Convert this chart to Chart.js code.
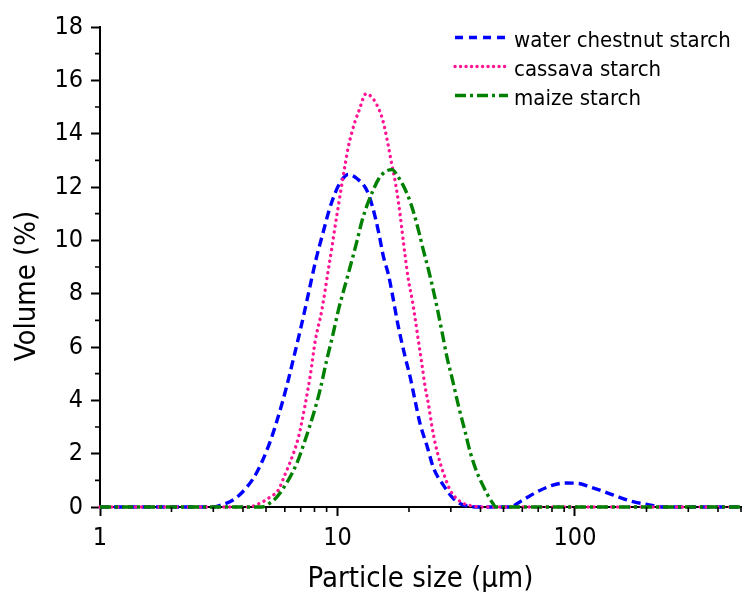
<!DOCTYPE html>
<html>
<head>
<meta charset="utf-8"/>
<script src="https://cdn.jsdelivr.net/npm/chart.js@4.4.0/dist/chart.umd.min.js"></script>
<style>
  body { margin: 0; background: #fff; }
  #wrap { width: 744px; height: 592px; }
</style>
</head>
<body>
<div id="wrap"><canvas id="chart" width="744" height="592"></canvas></div>
<script>
// particle size distributions (size in um, volume in %)
var wcSize = [1, 3.0, 3.2, 3.7, 4.2, 4.6, 5.2, 5.65, 6.1, 6.5, 7.0, 7.5, 8.1, 8.7, 9.2, 9.8, 10.4, 11.1, 12.1, 13.3, 14.0, 14.9, 15.6, 16.4, 17.0, 18.0, 19.3, 20.2, 21.2, 22.3, 23.8, 25.4, 28.0, 30.8, 35.0, 40, 53, 60, 69, 80, 91, 104, 116, 134, 153, 177, 201, 236, 500];
var wcVol  = [0, 0, 0.06, 0.31, 0.8, 1.34, 2.44, 3.44, 4.5, 5.5, 6.7, 7.9, 9.25, 10.3, 11.1, 11.8, 12.25, 12.47, 12.31, 11.87, 11.3, 10.3, 9.4, 8.7, 8.0, 6.8, 5.6, 4.9, 4.0, 3.1, 2.3, 1.45, 0.8, 0.31, 0.04, 0, 0, 0.25, 0.56, 0.81, 0.9, 0.88, 0.75, 0.56, 0.37, 0.19, 0.1, 0, 0];

var csSize = [1, 4.2, 4.5, 5.2, 5.65, 6.0, 6.3, 6.85, 7.3, 7.7, 8.05, 8.6, 9.15, 9.5, 9.8, 10.05, 10.3, 10.8, 11.1, 11.5, 11.9, 12.3, 13.2, 14.0, 14.7, 15.4, 15.9, 16.4, 16.9, 17.5, 18.1, 18.7, 19.3, 19.9, 20.6, 21.2, 21.9, 22.7, 23.4, 24.2, 25.0, 25.8, 27.1, 28.5, 29.8, 31.8, 34.0, 37.4, 40, 500];
var csVol  = [0, 0, 0.06, 0.37, 0.65, 1.2, 1.65, 2.62, 3.81, 5.0, 6.2, 7.4, 8.9, 9.8, 10.6, 11.2, 11.8, 12.9, 13.5, 14.05, 14.5, 14.85, 15.5, 15.35, 15.05, 14.6, 14.1, 13.5, 12.88, 12.2, 11.37, 10.37, 9.37, 8.5, 7.8, 7.1, 6.25, 5.31, 4.5, 3.81, 3.0, 2.38, 1.63, 1.06, 0.63, 0.31, 0.13, 0.03, 0, 0];

var mzSize = [1, 4.8, 5.2, 5.55, 6.2, 6.75, 7.3, 7.9, 8.45, 9.0, 9.5, 10.1, 10.6, 11.3, 12.1, 12.7, 13.3, 14.0, 14.9, 15.9, 17.0, 17.8, 18.9, 19.9, 20.8, 22.2, 23.0, 24.2, 25.8, 27.5, 28.9, 30.3, 32.4, 34.5, 36.2, 38.6, 40.5, 42.6, 44.7, 46.5, 500];
var mzVol  = [0, 0, 0.15, 0.37, 1.0, 1.65, 2.5, 3.45, 4.4, 5.5, 6.35, 7.4, 8.1, 9.0, 10.0, 10.75, 11.3, 11.8, 12.3, 12.58, 12.65, 12.45, 12.06, 11.62, 11.12, 10.19, 9.62, 8.87, 7.8, 6.6, 5.62, 4.87, 3.75, 2.81, 2.06, 1.31, 0.9, 0.5, 0.19, 0, 0];

var seriesNames = ['water chestnut starch', 'cassava starch', 'maize starch'];
var xMajor = [1, 10, 100];
var xMinor = [2, 3, 4, 5, 6, 7, 8, 9, 20, 30, 40, 50, 60, 70, 80, 90, 200, 300, 400, 500];
var yMinor = [1, 3, 5, 7, 9, 11, 13, 15, 17];

var FONT = '"DejaVu Sans Condensed", "DejaVu Sans", sans-serif';

function pts(xs, ys) {
  return xs.map(function (x, i) { return { x: x, y: ys[i] }; });
}

var extras = {
  id: 'extras',
  beforeDraw: function (chart) {
    var ctx = chart.ctx;
    ctx.save();
    ctx.fillStyle = '#fff';
    ctx.fillRect(0, 0, chart.width, chart.height);
    ctx.restore();
  },
  afterDraw: function (chart) {
    var ctx = chart.ctx, xs = chart.scales.x, ys = chart.scales.y, a = chart.chartArea;
    ctx.save();
    // minor ticks
    ctx.strokeStyle = '#000';
    ctx.lineWidth = 1.6;
    ctx.beginPath();
    xMinor.forEach(function (v) {
      var px = xs.getPixelForValue(v);
      ctx.moveTo(px, a.bottom);
      ctx.lineTo(px, a.bottom + 5);
    });
    yMinor.forEach(function (v) {
      var py = ys.getPixelForValue(v);
      ctx.moveTo(a.left - 5, py);
      ctx.lineTo(a.left, py);
    });
    ctx.stroke();

    // y title, sits a bit below the middle in the original
    ctx.save();
    ctx.translate(27, 286);
    ctx.rotate(-Math.PI / 2);
    ctx.fillStyle = '#000';
    ctx.font = '29px ' + FONT;
    ctx.textAlign = 'center';
    ctx.textBaseline = 'middle';
    ctx.fillText('Volume (%)', 0, 0);
    ctx.restore();

    // legend
    var rows = [47, 76, 105];
    chart.data.datasets.forEach(function (ds, i) {
      var y = rows[i] - 9.5;
      ctx.save();
      ctx.strokeStyle = ds.borderColor;
      ctx.lineWidth = ds.borderWidth;
      ctx.lineCap = ds.borderCapStyle || 'butt';
      ctx.setLineDash(ds.legendDash);
      ctx.beginPath();
      ctx.moveTo(455, y);
      ctx.lineTo(508, y);
      ctx.stroke();
      ctx.restore();
      ctx.fillStyle = '#000';
      ctx.font = '22px ' + FONT;
      ctx.textAlign = 'left';
      ctx.textBaseline = 'alphabetic';
      ctx.fillText(ds.label, 514, rows[i]);
    });
    ctx.restore();
  }
};

new Chart(document.getElementById('chart'), {
  type: 'line',
  data: {
    datasets: [
      { label: seriesNames[0], data: pts(wcSize, wcVol), borderColor: '#0000ff', borderWidth: 3.4,
        borderDash: [9, 5], legendDash: [8, 6], order: 2 },
      { label: seriesNames[1], data: pts(csSize, csVol), borderColor: '#ff1493', borderWidth: 3.4,
        borderDash: [0.1, 5.8], borderCapStyle: 'round', legendDash: [0.1, 5.4], order: 1 },
      { label: seriesNames[2], data: pts(mzSize, mzVol), borderColor: '#008000', borderWidth: 3.4,
        borderDash: [11, 4, 3, 4], legendDash: [11, 4, 3, 4], order: 0 }
    ]
  },
  options: {
    responsive: false,
    animation: false,
    devicePixelRatio: 1,
    layout: { padding: { top: 27, right: 3, left: 0, bottom: 0 } },
    elements: {
      point: { radius: 0 },
      line: { cubicInterpolationMode: 'monotone', fill: false }
    },
    datasets: { line: { clip: false } },
    plugins: { legend: { display: false }, tooltip: { enabled: false } },
    scales: {
      x: {
        type: 'logarithmic', min: 1, max: 500,
        afterBuildTicks: function (s) { s.ticks = xMajor.map(function (v) { return { value: v }; }); },
        afterFit: function (s) { s.height = 85; },
        ticks: { autoSkip: false, maxRotation: 0, color: '#000', padding: 7,
                 font: { family: FONT, size: 25 },
                 callback: function (v) { return String(v); } },
        grid: { drawOnChartArea: false, tickLength: 9, tickWidth: 2, tickColor: '#000' },
        border: { display: true, color: '#000', width: 2 },
        title: { display: true, text: 'Particle size (\u03bcm)', color: '#000',
                 font: { family: FONT, size: 29 }, padding: { top: 0, bottom: -5 } }
      },
      y: {
        min: 0, max: 18,
        afterFit: function (s) { s.width = 100; },
        ticks: { stepSize: 2, color: '#000', padding: 8, font: { family: FONT, size: 25 } },
        grid: { drawOnChartArea: false, tickLength: 9, tickWidth: 2, tickColor: '#000' },
        border: { display: true, color: '#000', width: 2 }
      }
    }
  },
  plugins: [extras]
});
</script>
</body>
</html>
